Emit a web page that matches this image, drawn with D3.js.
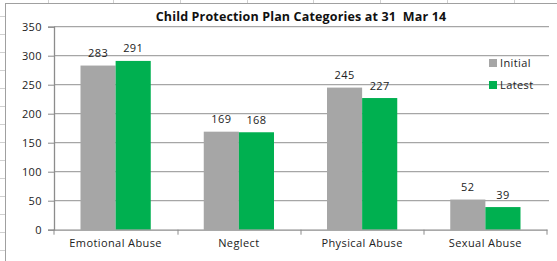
<!DOCTYPE html>
<html><head><meta charset="utf-8">
<script src="https://cdn.jsdelivr.net/npm/d3@7"></script>
<style>html,body{margin:0;padding:0;background:#fff;overflow:hidden}svg{display:block}</style>
</head><body>
<svg id="c" width="557" height="261"></svg>
<script>
const categories = ["Emotional Abuse", "Neglect", "Physical Abuse", "Sexual Abuse"];
const seriesNames = ["Initial", "Latest"];
const initialValues = [283, 169, 245, 52];
const latestValues = [291, 168, 227, 39];
const yTicks = [0, 50, 100, 150, 200, 250, 300, 350];
const colors = ["#A6A6A6", "#00B050"];
const title = "Child Protection Plan Categories at 31\u00A0 Mar 14";

const svg = d3.select("#c");
const font = "'Open Sans', sans-serif";
const fs = 11, ls = 0.4;

// spreadsheet background grid
const sheetCols = [48, 113, 180, 247, 313, 380, 447, 514];
svg.append("g").selectAll("line").data(sheetCols).join("line")
  .attr("x1", d => d + 0.5).attr("x2", d => d + 0.5).attr("y1", 0).attr("y2", 4)
  .attr("stroke", "#d0d0d0");
svg.append("g").selectAll("line").data(d3.range(16, 261, 18)).join("line")
  .attr("x1", 0).attr("x2", 5).attr("y1", d => d + 0.5).attr("y2", d => d + 0.5)
  .attr("stroke", "#d0d0d0");
// chart frame
svg.append("rect").attr("x", 5.5).attr("y", 3.5).attr("width", 600).attr("height", 300)
  .attr("fill", "#fff").attr("stroke", "#a0a0a0");

const x0 = d3.scaleBand().domain(categories).range([54, 547]).paddingInner(0.43).paddingOuter(0.215);
const x1 = d3.scaleBand().domain(seriesNames).range([0, x0.bandwidth()]);
const y = d3.scaleLinear().domain([0, 350]).range([229.7, 26.7]);

// gridlines
svg.append("g").selectAll("line").data(yTicks.filter(d => d > 0)).join("line")
  .attr("x1", 54).attr("x2", 549).attr("y1", d => y(d)).attr("y2", d => y(d))
  .attr("stroke", "#a6a6a6").attr("stroke-width", 1.3);

// y axis
const yAxis = svg.append("g").attr("transform", "translate(54,0)")
  .call(d3.axisLeft(y).tickValues(yTicks).tickSize(6).tickPadding(6));
yAxis.select(".domain").attr("stroke", "#8c8c8c").attr("stroke-width", 1.3);
yAxis.selectAll(".tick line").attr("stroke", "#8c8c8c");
yAxis.selectAll("text").attr("font-family", font).attr("font-size", fs).attr("letter-spacing", ls).attr("fill", "#222");

// bars
const data = categories.map((c, i) => ({cat: c, vals: [initialValues[i], latestValues[i]]}));
const groups = svg.append("g").selectAll("g").data(data).join("g")
  .attr("transform", d => `translate(${x0(d.cat)},0)`);
groups.selectAll("rect").data(d => d.vals.map((v, j) => ({name: seriesNames[j], v, j}))).join("rect")
  .attr("x", d => x1(d.name)).attr("width", x1.bandwidth())
  .attr("y", d => y(d.v)).attr("height", d => y(0) - y(d.v))
  .attr("fill", d => colors[d.j]);
groups.selectAll("text").data(d => d.vals.map((v, j) => ({name: seriesNames[j], v, j}))).join("text")
  .attr("x", d => x1(d.name) + x1.bandwidth() / 2).attr("y", d => y(d.v) - 8.5)
  .attr("text-anchor", "middle").attr("font-family", font).attr("font-size", fs).attr("letter-spacing", ls).attr("fill", "#222")
  .text(d => d.v);

// x axis
const xAxis = svg.append("g").attr("transform", `translate(0,${y(0)})`)
  .call(d3.axisBottom(x0).tickSize(0).tickPadding(10));
xAxis.select(".domain").attr("stroke", "#8c8c8c").attr("stroke-width", 1.3);
xAxis.selectAll("text").attr("font-family", font).attr("font-size", fs).attr("letter-spacing", ls).attr("fill", "#222");
svg.append("g").selectAll("line").data([54, 178, 301, 424, 547]).join("line")
  .attr("x1", d => d).attr("x2", d => d).attr("y1", y(0)).attr("y2", y(0) + 5)
  .attr("stroke", "#8c8c8c");

// title
svg.append("text").attr("x", 301).attr("y", 21).attr("text-anchor", "middle")
  .attr("font-family", font).attr("font-weight", "bold").attr("font-size", 12.5).attr("letter-spacing", 0.15).attr("fill", "#111")
  .text(title);

// legend
const leg = svg.append("g").selectAll("g").data(seriesNames).join("g")
  .attr("transform", (d, i) => `translate(489,${59 + i * 22})`);
leg.append("rect").attr("width", 8).attr("height", 8).attr("fill", (d, i) => colors[i]);
leg.append("text").attr("x", 11).attr("y", 8).attr("font-family", font).attr("font-size", fs).attr("letter-spacing", ls).attr("fill", "#222")
  .text(d => d);
</script>
</body></html>
